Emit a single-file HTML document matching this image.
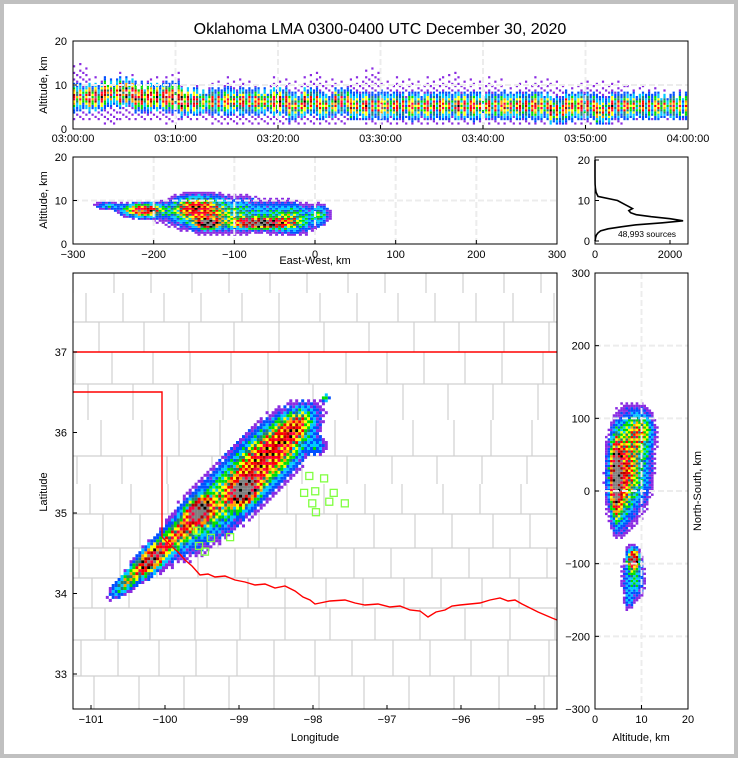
<!DOCTYPE html>
<html><head><meta charset="utf-8"><style>
html,body{margin:0;padding:0;background:#c0c0c0;}
#wrap{position:absolute;left:4px;top:4px;width:730px;height:750px;background:#fff;}
svg{position:absolute;left:0;top:0;font-family:"Liberation Sans","DejaVu Sans",sans-serif;}
</style></head><body>
<div id="wrap"></div>
<svg id="s" width="738" height="758" xmlns="http://www.w3.org/2000/svg"></svg>
<script>
// ---------- data ----------
const tTop=[15,12,12,13,11,12,13,10,10,11,12,11,10,12,11,13,12,11,12,14,11,12,11,12,13,12,11,12,10,11,12,11,10,11,11,11,10,10,9,9];
const tBot=[2,2,1,2,2,2,1,2,2,1,1,1,1,1,1,1,1,1,2,1,1,1,1,1,1,1,1,1,1,1,1,1,1,1,1,1,2,2,2,2];
const tCore=[7,7,8,8,7,7,7,6,6,6,6,6,6,6,5,6,5,6,5,5,5,5,5,5,5,5,5,5,5,5,5,4,5,5,4,5,5,5,5,5];
const tPeak=[0.7,0.85,0.75,0.95,0.9,0.8,0.95,0.85,0.55,0.6,0.65,0.6,0.6,0.75,0.65,0.7,0.6,0.65,0.7,0.65,0.7,0.6,0.65,0.7,0.65,0.75,0.65,0.6,0.7,0.65,0.7,0.7,0.75,0.65,0.7,0.65,0.6,0.6,0.55,0.55];
// [x km, alt km, sx, sa, peak]
const ewClusters=[[-215,8,22,1.3,0.8],[-135,5,12,1.0,1.1],[-70,5,28,1.0,1.1],[-150,8.5,25,2.3,0.55],[-115,7,65,3.6,0.35],[-30,6,25,3,0.35],[-260,9,15,0.8,0.25],[5,7,10,2,0.3]];
// [alt, ns km, sa, sn, peak]
const nsClusters=[[4.3,20,0.9,40,1.15],[5,20,2.2,55,0.55],[8,40,3.5,60,0.4],[8,-92,1.1,12,1.0],[8,-120,2.2,25,0.3],[9.5,85,2.5,22,0.35],[7,-150,1,12,0.15]];
// [lon, lat, along-sigma px, cross-sigma px, peak]
const mapClusters=[[-100.2,34.45,20,9,0.95],[-100.55,34.15,18,7,0.4],[-99.55,35.05,12,10,1.0],[-98.95,35.3,14,10,1.0],[-99.1,35.3,75,24,0.42],[-98.55,35.8,40,20,0.5],[-98.25,36.1,18,11,0.35],[-99.8,34.8,22,10,0.45],[-97.95,35.85,8,7,0.2],[-97.85,36.45,4,3,0.3]];
const stationLon=[-98.05,-97.85,-98.12,-97.97,-97.72,-97.78,-97.57,-98.01,-97.96,-99.57,-99.38,-99.12,-99.54,-99.46];
const stationLat=[35.46,35.43,35.25,35.27,35.25,35.14,35.12,35.12,35.01,34.78,34.69,34.70,34.59,34.52];
const hAlt=[0,0.5,1,1.5,2,2.5,3,3.5,4,4.5,5,5.5,6,6.5,7,7.5,8,8.5,9,10,11,12,13,14,16,20];
const hCnt=[0,10,20,40,80,150,350,700,1100,1800,2350,2000,1500,1100,950,900,1000,900,800,600,80,30,10,3,0,0];
const timeTicks=["03:00:00","03:10:00","03:20:00","03:30:00","03:40:00","03:50:00","04:00:00"];
const ewTicks=[-300,-200,-100,0,100,200,300];
const lonTicks=[-101,-100,-99,-98,-97,-96,-95];
const latTicks=[33,34,35,36,37];
const nsTicks=[-300,-200,-100,0,100,200,300];

// ---------- helpers ----------
const S=document.getElementById('s');const NS='http://www.w3.org/2000/svg';
function el(t,a,p){const e=document.createElementNS(NS,t);for(const k in a)e.setAttribute(k,a[k]);(p||S).appendChild(e);return e;}
function txt(x,y,s,size,anchor,p,rot){const e=el('text',{x:x,y:y,'font-size':size,'text-anchor':anchor||'middle',fill:'#000'},p);if(rot)e.setAttribute('transform','rotate(-90 '+x+' '+y+')');e.textContent=s;return e;}
const BAYER=[[0,8,2,10],[12,4,14,6],[3,11,1,9],[15,7,13,5]];
function dith(d,i,j){return d*(0.65+0.7*BAYER[i&3][j&3]/15);}
function cmap(v){
  const stops=[[0.05,'#8a2be2'],[0.12,'#0050ff'],[0.2,'#00c8ff'],[0.28,'#00e000'],[0.36,'#208070'],[0.42,'#ffff00'],[0.5,'#ffa000'],[0.58,'#ff0000'],[0.7,'#ff0040'],[0.8,'#b00000'],[0.9,'#000000'],[0.97,'#808080'],[1.05,'#e0e0e0']];
  let c=stops[0][1];for(const s of stops){if(v>=s[0])c=s[1];}return c;}
const tx=i=>73+i*(615/40);
const ty=a=>129-a*(88/20);
const ewx=k=>315+k*(484/600);
const ewy=a=>244-a*(87/20);
const hx=c=>595+c*(75/2000);
const hy=a=>241-a*(81/20);
const mx=lon=>91+(lon+101)*74;
const my=lat=>352-(lat-37)*80.5;
const nsx=a=>595+a*(93/20);
const nsy=n=>491-n*(436/600);

const tt=txt(380,34,"Oklahoma LMA 0300-0400 UTC December 30, 2020",16);


function frame(x,y,w,h,name){const r=el('rect',{x:x,y:y,width:w,height:h,fill:'none',stroke:'#000','stroke-width':1});}
function grid(x1,y1,x2,y2){el('line',{x1:x1,y1:y1,x2:x2,y2:y2,stroke:'#ececec','stroke-width':2,'stroke-dasharray':'6,3'});}

// ---------- time-height panel ----------
const gT=el('g',{});
for(let i=1;i<6;i++)grid(73+i*102.5,41,73+i*102.5,129);grid(73,85,688,85);
const subF=[1,0.5,0.9,0.35,0.8];
for(let i=0;i<40;i++){
  for(let s=0;s<5;s++){
    const x=tx(i)+s*3.075;let j=0;
    for(let a=tBot[i];a<tTop[i]-(s%2)*2;a+=0.5,j++){
      const d=dith(tPeak[i]*subF[s]*Math.exp(-Math.pow((a-tCore[i])/2.2,2)),i*5+s,j)+0.06;
      if(d<0.12 && (j+s)%3!==0)continue;
      el('rect',{x:x.toFixed(1),y:ty(a+0.5).toFixed(1),width:2.2,height:2.2,fill:cmap(d)},gT);
    }
  }
}
frame(73,41,615,88,'time-height-frame');
[0,10,20].forEach(v=>{txt(67,ty(v)+4,v,11,'end');el('line',{x1:73,y1:ty(v),x2:77,y2:ty(v),stroke:'#000'});});
timeTicks.forEach((t,i)=>{const x=73+i*102.5;txt(x,142,t,11);el('line',{x1:x,y1:129,x2:x,y2:125,stroke:'#000'});});
txt(47,85,"Altitude, km",11,'middle',null,true);

// ---------- east-west panel ----------
const gE=el('g',{});
ewTicks.slice(1,-1).forEach(v=>grid(ewx(v),157,ewx(v),244));grid(73,ewy(10),557,ewy(10));
{let i=0;for(let k=-290;k<40;k+=3.7,i++){let j=0;for(let a=0.5;a<16;a+=0.46,j++){
  let d=0;for(const c of ewClusters)d+=c[4]*Math.exp(-Math.pow((k-c[0])/c[2],2)-Math.pow((a-c[1])/c[3],2));
  d=dith(d,i,j);
  if(d>0.07)el('rect',{x:ewx(k).toFixed(1),y:ewy(a).toFixed(1),width:3,height:2,fill:cmap(Math.min(d,1.04))},gE);}}}
frame(73,157,484,87,'east-west-frame');
[0,10,20].forEach(v=>{txt(67,ewy(v)+4,v,11,'end');el('line',{x1:73,y1:ewy(v),x2:77,y2:ewy(v),stroke:'#000'});});
ewTicks.forEach(v=>{txt(ewx(v),258,v<0?'\u2212'+(-v):v,11);el('line',{x1:ewx(v),y1:244,x2:ewx(v),y2:240,stroke:'#000'});});
txt(47,200,"Altitude, km",11,'middle',null,true);
txt(315,264,"East-West, km",11);

// ---------- histogram ----------
const gH=el('g',{});
let pd='';hAlt.forEach((a,i)=>{pd+=(i?'L':'M')+hx(hCnt[i]).toFixed(1)+','+hy(a).toFixed(1);});
const hp=el('path',{d:pd,fill:'none',stroke:'#000','stroke-width':1.6},gH);
frame(595,157,93,87,'histogram-frame');
[0,10,20].forEach(v=>{txt(590,hy(v)+4,v,11,'end');el('line',{x1:595,y1:hy(v),x2:599,y2:hy(v),stroke:'#000'});});
[0,2000].forEach(v=>{txt(hx(v),258,v,11);el('line',{x1:hx(v),y1:244,x2:hx(v),y2:240,stroke:'#000'});});
txt(647,237,"48,993 sources",8.5);

// ---------- map ----------
const gM=el('g',{});
el('clipPath',{id:'mc'}).appendChild(el('rect',{x:73,y:273,width:484,height:436}));
const gC=el('g',{'clip-path':'url(#mc)'},gM);
const rowsY=[273,293,322,352,384,420,456,484,514,548,578,608,640,676,709];
for(let r=0;r<rowsY.length-1;r++){
  const off=(r*13)%37;
  if(r%2===0||r>7)el('line',{x1:73,y1:rowsY[r],x2:557,y2:rowsY[r],stroke:'#d0d0d0','stroke-width':1.2},gC);
  for(let x=73+off;x<557;x+=37+((r+Math.floor(x))%3)*4)el('line',{x1:x,y1:rowsY[r],x2:x,y2:rowsY[r+1],stroke:'#d0d0d0','stroke-width':1.2},gC);
}
{let i=0;for(let lon=-101;lon<-97.6;lon+=0.04,i++){let j=0;for(let lat=33.6;lat<36.6;lat+=0.037,j++){
  let d=0;for(const c of mapClusters){const px=(lon-c[0])*74,py=-(lat-c[1])*80.5;const u=(px-py)*0.707,v=(px+py)*0.707;d+=c[4]*Math.exp(-Math.pow(u/c[2],2)-Math.pow(v/c[3],2));}
  d=dith(d,i,j);
  if(d>0.08)el('rect',{x:mx(lon).toFixed(1),y:my(lat).toFixed(1),width:3,height:3,fill:cmap(Math.min(d,1.04))},gM);}}}
const bd=el('path',{d:'M73,352L557,352M73,392L162,392L162,537',fill:'none',stroke:'#ff0000','stroke-width':1.4},gM);
const rr=el('polyline',{points:'162,537 170,545 178,552 185,560 192,566 200,575 208,574 215,577 225,576 235,580 245,582 255,585 265,584 275,588 285,586 295,591 303,597 310,600 315,604 320,603 330,601 345,600 355,603 365,605 378,604 390,607 400,606 410,610 420,611 428,617 436,612 445,610 452,606 460,605 470,604 480,603 490,600 500,598 508,601 515,600 522,604 530,608 538,612 545,615 552,618 557,620',fill:'none',stroke:'#ff0000','stroke-width':1.4},gM);

stationLon.forEach((lo,i)=>{const r=el('rect',{x:mx(lo)-3.5,y:my(stationLat[i])-3.5,width:7,height:7,fill:'none',stroke:'#80ff40','stroke-width':1.3},gM);
 });
frame(73,273,484,436,'map-frame');
lonTicks.forEach(v=>{txt(mx(v),723,v<0?'\u2212'+(-v):v,11);el('line',{x1:mx(v),y1:709,x2:mx(v),y2:705,stroke:'#000'});});
latTicks.forEach(v=>{txt(67,my(v)+4,v,11,'end');el('line',{x1:73,y1:my(v),x2:77,y2:my(v),stroke:'#000'});});
txt(315,741,"Longitude",11);txt(47,492,"Latitude",11,'middle',null,true);

// ---------- north-south panel ----------
const gN=el('g',{});
grid(nsx(10),273,nsx(10),709);nsTicks.slice(1,-1).forEach(v=>grid(595,nsy(v),688,nsy(v)));
{let i=0;for(let a=0.5;a<16;a+=0.55,i++){let j=0;for(let n=-175;n<135;n+=3.3,j++){
  let d=0;for(const c of nsClusters)d+=c[4]*Math.exp(-Math.pow((a-c[0])/c[2],2)-Math.pow((n-c[1])/c[3],2));
  d=dith(d,i,j);
  if(d>0.07)el('rect',{x:nsx(a).toFixed(1),y:nsy(n).toFixed(1),width:2.6,height:2.4,fill:cmap(Math.min(d,1.04))},gN);}}}
frame(595,273,93,436,'north-south-frame');
nsTicks.forEach(v=>{txt(590,nsy(v)+4,v<0?'\u2212'+(-v):v,11,'end');el('line',{x1:595,y1:nsy(v),x2:599,y2:nsy(v),stroke:'#000'});});
[0,10,20].forEach(v=>{txt(nsx(v),723,v,11);el('line',{x1:nsx(v),y1:709,x2:nsx(v),y2:705,stroke:'#000'});});
txt(641,741,"Altitude, km",11);txt(701,491,"North-South, km",11,'middle',null,true);
</script>
</body></html>
